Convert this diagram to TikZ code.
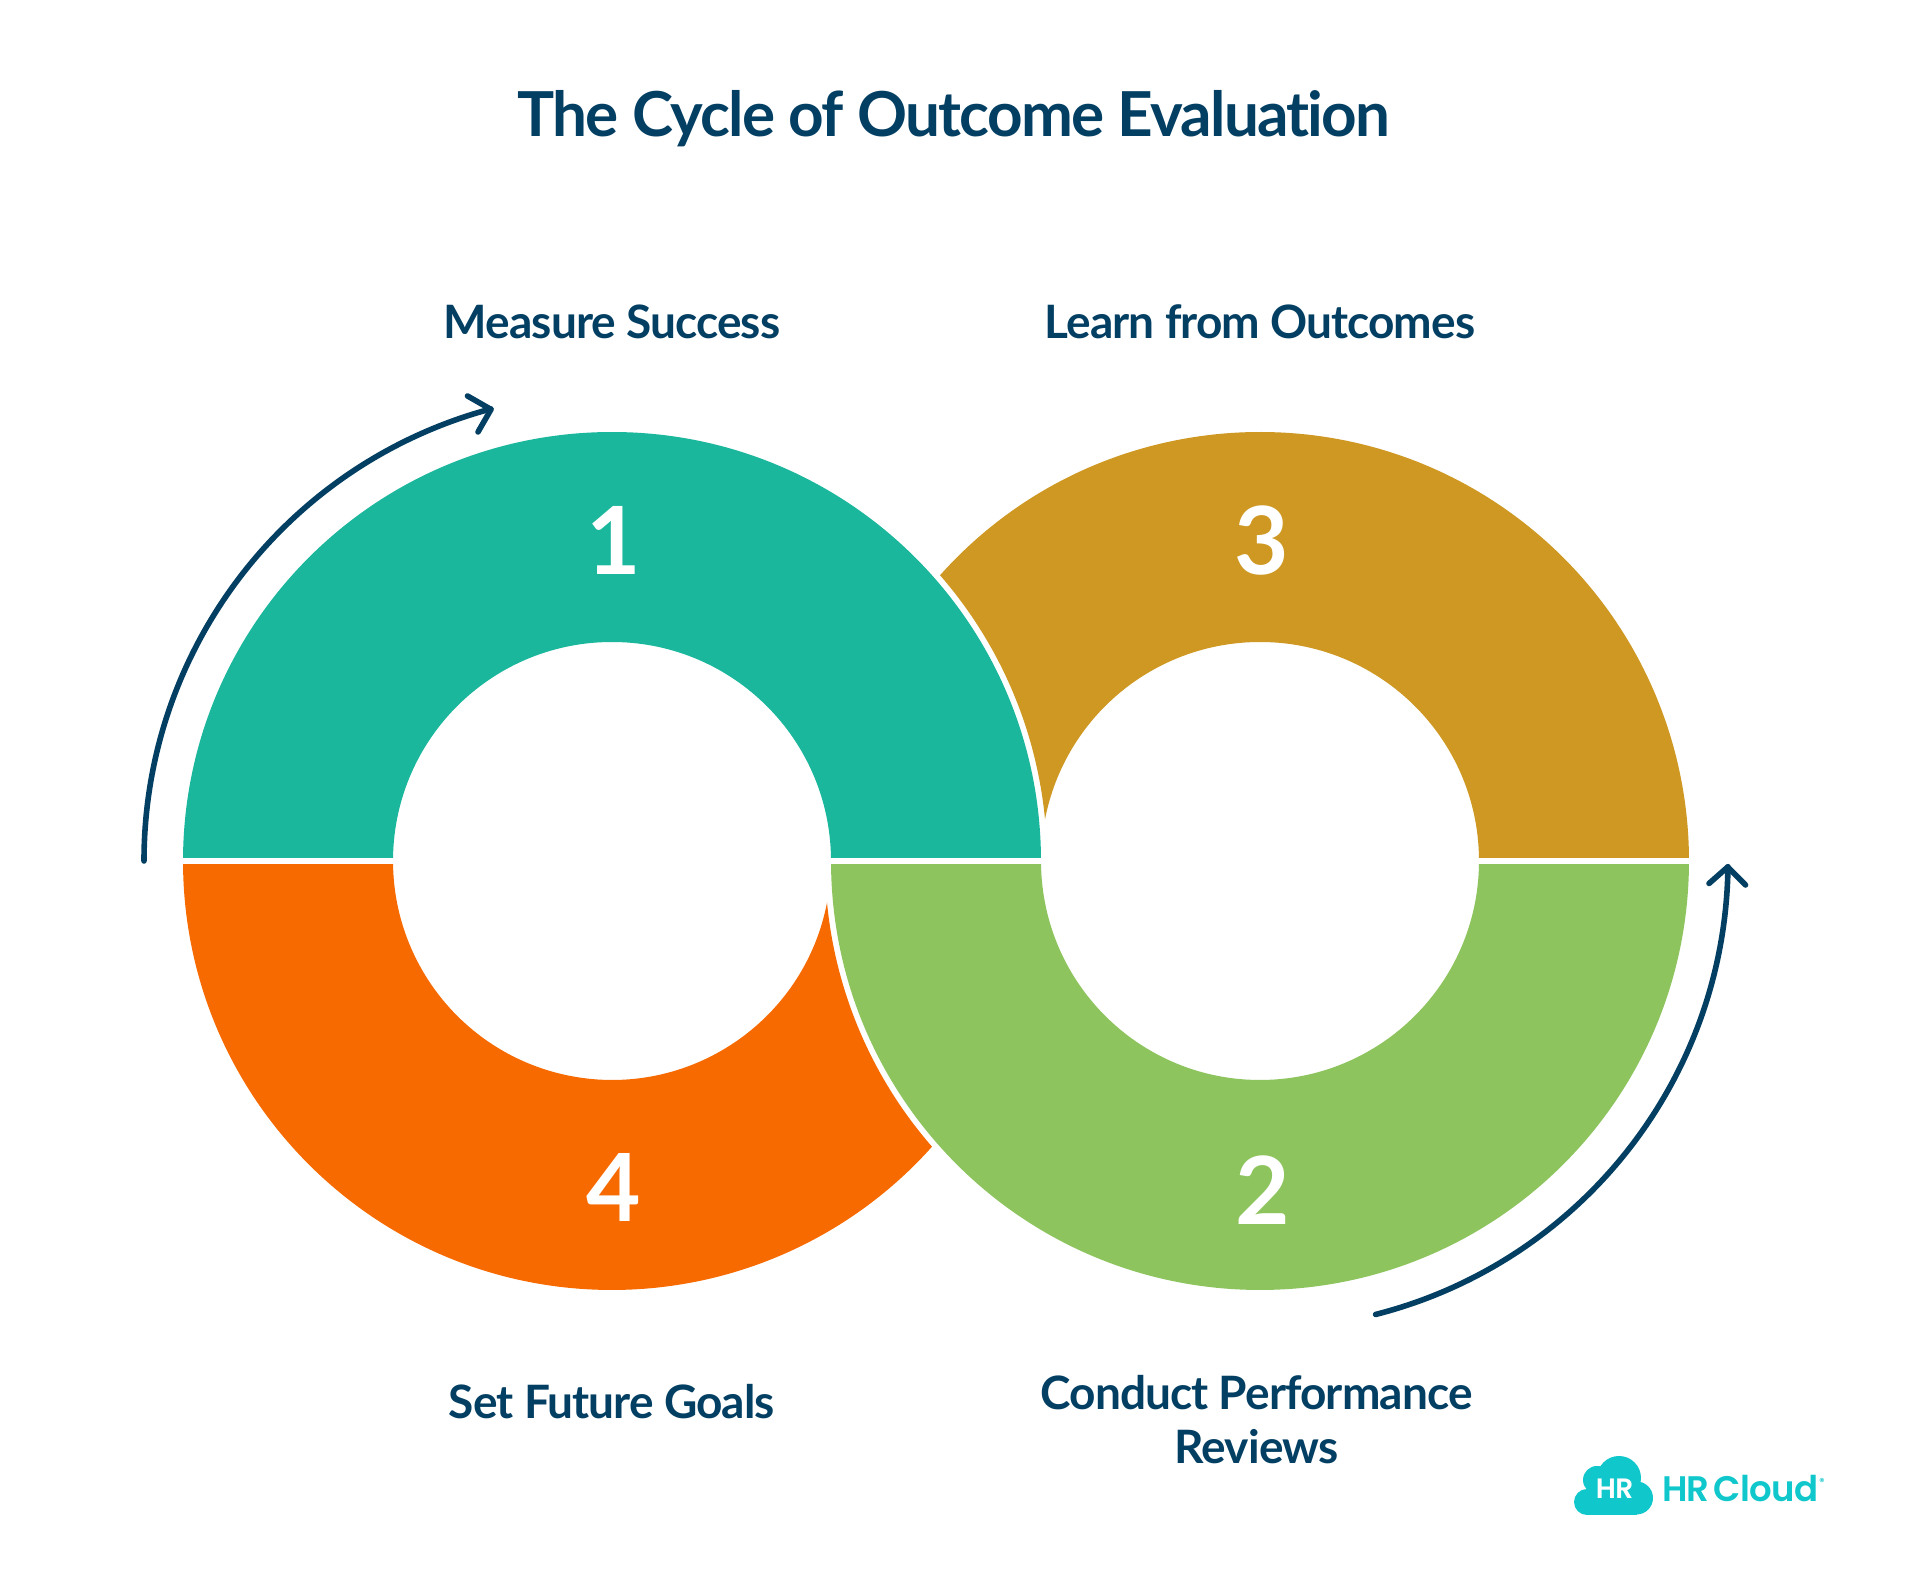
\documentclass[tikz,border=0pt]{standalone}
\usepackage{fontspec}
\setmainfont{Lato}[Ligatures=NoCommon]
\newfontfamily\popfont{Poppins SemiBold}[WordSpace=0.5]
\usetikzlibrary{calc}
\definecolor{navy}{HTML}{033F63}
\definecolor{tealc}{HTML}{1BB79D}
\definecolor{goldc}{HTML}{CE9823}
\definecolor{greenc}{HTML}{8DC45D}
\definecolor{orangec}{HTML}{F76A00}
\definecolor{cloudc}{HTML}{10C7CC}
\tikzset{
  lbl/.style={anchor=base,inner sep=0pt,text=navy,font=\fontsize{46}{46}\selectfont\bfseries\addfontfeature{LetterSpace=-2.0}},
  titletxt/.style={anchor=base,inner sep=0pt,text=navy,font=\fontsize{62}{62}\selectfont\bfseries\addfontfeature{LetterSpace=-2.85}},
  digit/.style={anchor=base,inner sep=0pt,text=white,font=\fontsize{94}{94}\selectfont\bfseries},
  cycleline/.style={draw=navy,line width=5.6pt,line cap=round,line join=round}
}
\begin{document}
\begin{tikzpicture}[x=1pt,y=1pt]
\useasboundingbox (0,0) rectangle (1917,1578);
\fill[white] (0,0) rectangle (1917,1578);
\coordinate (C1) at (612,717);
\coordinate (C2) at (1260,717);
% sectors
\fill[goldc] ($(C2)+(138.24:429)$) arc[start angle=138.24,end angle=0.43,radius=429pt]
  -- ($(C2)+(0.84:219)$) arc[start angle=0.84,end angle=169.02,radius=219pt]
  arc[start angle=5.50,end angle=41.06,radius=435pt] -- cycle;
\fill[orangec] ($(C1)+(180.43:429)$) arc[start angle=180.43,end angle=318.24,radius=429pt]
  arc[start angle=221.06,end angle=185.50,radius=435pt]
  arc[start angle=349.02,end angle=180.84,radius=219pt] -- cycle;
\fill[tealc] ($(C1)+(0.43:429)$) arc[start angle=0.43,end angle=179.57,radius=429pt]
  -- ($(C1)+(179.16:219)$) arc[start angle=179.16,end angle=0.84,radius=219pt] -- cycle;
\fill[greenc] ($(C2)+(-0.43:429)$) arc[start angle=-0.43,end angle=-179.57,radius=429pt]
  -- ($(C2)+(-179.16:219)$) arc[start angle=-179.16,end angle=-0.84,radius=219pt] -- cycle;
% arrows
\coordinate (s1) at ($(C1)+(180:468)$);
\coordinate (t1) at ($(C1)+(105:467.5)$);
\coordinate (b1a) at (467.5,1182);
\coordinate (b1b) at (478,1146);
\draw[cycleline] (s1) arc[start angle=180,end angle=105,radius=468pt];
\draw[cycleline] (b1a) -- (t1) -- (b1b);
\coordinate (s2) at ($(C2)+(-75.7:468)$);
\coordinate (t2) at ($(C2)+(0:468)$);
\coordinate (b2a) at (1709,694.5);
\coordinate (b2b) at (1745.5,693);
\draw[cycleline] (s2) arc[start angle=-75.7,end angle=-0.7,radius=468pt];
\draw[cycleline] (b2a) -- (1727.7,711) -- (b2b);
% text
\node[titletxt] (title) at (954,1441) {The Cycle of Outcome Evaluation};
\node[lbl] (l1) at (612,1239) {Measure Success};
\node[lbl] (l3) at (1260,1239) {Learn from Outcomes};
\node[lbl] (l4) at (612,159) {Set Future Goals};
\node[lbl] (l2a) at (1256.5,168) {Conduct Performance};
\node[lbl] (l2b) at (1256.5,114) {Reviews};
\node[digit] (d1) at (614,1003) {1};
\node[digit] (d3) at (1262,1003) {3};
\node[digit] (d2) at (1262.5,353) {2};
\node[digit] (d4) at (613.5,356) {4};
% logo
\fill[cloudc] (1587,76) circle[radius=13pt];
\fill[cloudc] (1597,98) circle[radius=14pt];
\fill[cloudc] (1619,100) circle[radius=22pt];
\fill[cloudc] (1636.5,80) circle[radius=16.5pt];
\fill[cloudc] (1587,63.3) rectangle (1637,98);
\node[anchor=base,inner sep=0pt,text=white,font=\popfont\fontsize{28}{28}\selectfont\addfontfeature{LetterSpace=-2}] (hr) at (1614.5,79) {HR};
\node[anchor=base west,inner sep=0pt,text=cloudc,font=\popfont\fontsize{35.5}{35.5}\selectfont\addfontfeature{LetterSpace=-2}] (hrc) at (1662,76) {HR Cloud};
\node[anchor=base,inner sep=0pt,text=cloudc,font=\popfont\fontsize{10}{10}\selectfont] (reg) at (1822,92) {®};
\end{tikzpicture}
\end{document}
